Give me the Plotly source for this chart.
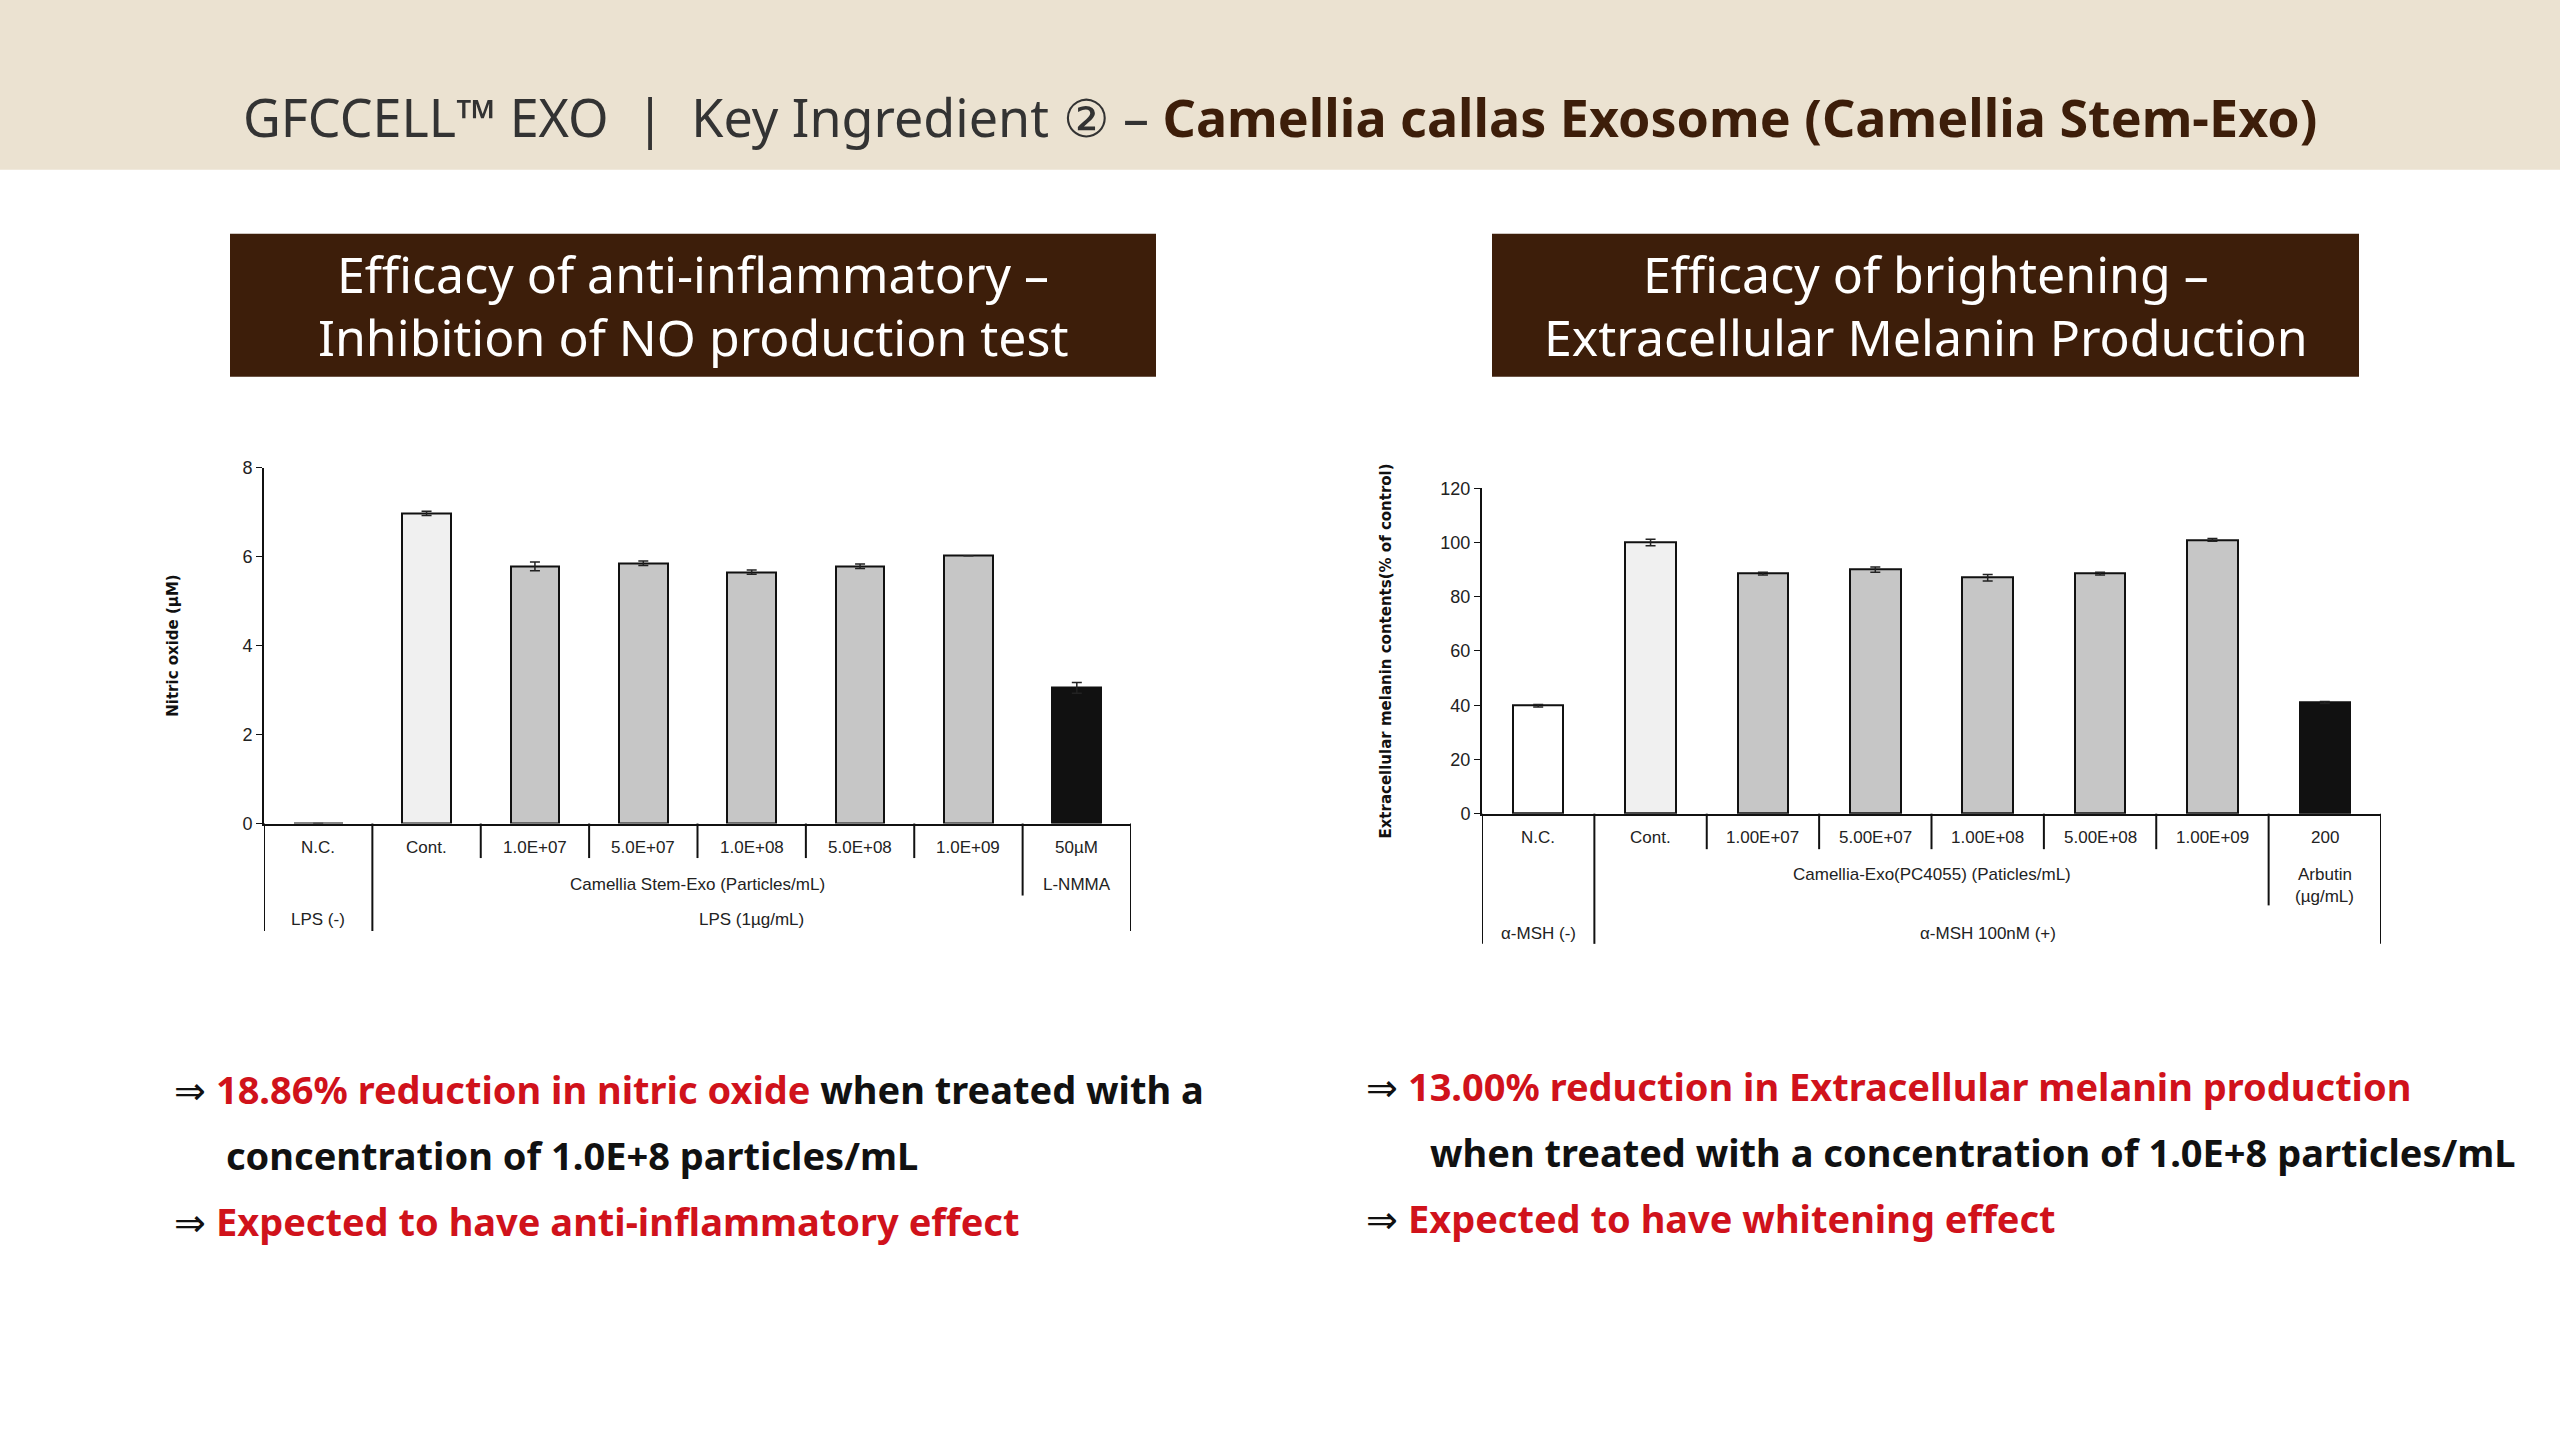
import plotly.graph_objects as go

# left chart: nitric oxide
no_cats = ["N.C.", "Cont.", "1.0E+07", "5.0E+07", "1.0E+08", "5.0E+08", "1.0E+09", "50µM"]
no_vals = [0.0, 6.97, 5.78, 5.85, 5.65, 5.78, 6.02, 3.05]
no_err = [0.0, 0.05, 0.10, 0.05, 0.05, 0.05, 0.0, 0.12]

# right chart: melanin
mel_cats = ["N.C.", "Cont.", "1.00E+07", "5.00E+07", "1.00E+08", "5.00E+08", "1.00E+09", "200"]
mel_vals = [39.8, 100.0, 88.5, 90.0, 87.0, 88.5, 101.0, 41.0]
mel_err = [0.5, 1.2, 0.5, 1.0, 1.2, 0.5, 0.5, 0.4]

bar_colors = ["#ffffff", "#f0f0f0", "#c6c6c6", "#c6c6c6", "#c6c6c6", "#c6c6c6", "#c6c6c6", "#111111"]

W, H = 2560, 1440
def px(v):  # x pixel -> paper
    return v / W
def py(v):  # y pixel from top -> paper
    return 1 - v / H

BROWN = "#3d1e0a"
RED = "#d0121b"
NARROW = "Liberation Sans Narrow, Arial Narrow, sans-serif"
KFONT = "Noto Sans, sans-serif"

fig = go.Figure()
err_style = dict(type="data", thickness=1.5, width=5, color="#222")
fig.add_trace(go.Bar(x=list(range(8)), y=no_vals, error_y=dict(array=no_err, **err_style),
                     marker=dict(color=bar_colors, line=dict(color="#111", width=2)),
                     width=0.45, xaxis="x", yaxis="y", showlegend=False))
fig.add_trace(go.Bar(x=list(range(8)), y=mel_vals, error_y=dict(array=mel_err, **err_style),
                     marker=dict(color=bar_colors, line=dict(color="#111", width=2)),
                     width=0.45, xaxis="x2", yaxis="y2", showlegend=False))

axis_common = dict(showgrid=False, zeroline=False, linecolor="#111", linewidth=2)
fig.update_layout(
    width=W, height=H, paper_bgcolor="white", plot_bgcolor="white",
    margin=dict(l=0, r=0, t=0, b=0), bargap=0,
    xaxis=dict(domain=[px(264), px(1131)], range=[-0.5, 7.5], showticklabels=False,
               ticks="", anchor="y", **axis_common),
    yaxis=dict(domain=[py(825), py(464)], range=[0, 8], dtick=2, ticks="outside",
               ticklen=6, tickcolor="#111", anchor="x",
               tickfont=dict(family=NARROW, size=18, color="#222"),
               title=dict(text="<b>Nitric oxide (µM)</b>", font=dict(family="DejaVu Sans", size=15, color="#111"),
                          standoff=60), **axis_common),
    xaxis2=dict(domain=[px(1482), px(2381)], range=[-0.5, 7.5], showticklabels=False,
                ticks="", anchor="y2", **axis_common),
    yaxis2=dict(domain=[py(815), py(485)], range=[0, 120], dtick=20, ticks="outside",
                ticklen=6, tickcolor="#111", anchor="x2",
                tickfont=dict(family=NARROW, size=18, color="#222"),
                title=dict(text="<b>Extracellular melanin contents(% of control)</b>",
                           font=dict(family="DejaVu Sans", size=15, color="#111"), standoff=45),
                **axis_common),
)

shapes = []
anns = []

# header band
shapes.append(dict(type="rect", xref="paper", yref="paper", x0=0, x1=1, y0=py(162), y1=1.01,
                   fillcolor="#ebe2d1", line=dict(width=0), layer="below"))
anns.append(dict(xref="paper", yref="paper", x=0.5, y=py(108), xanchor="center", yanchor="middle",
                 showarrow=False,
                 text=f"GFCCELL™ EXO  |  Key Ingredient ② – <b><span style='color:{BROWN}'>Camellia callas Exosome (Camellia Stem-Exo)</span></b>",
                 font=dict(family=KFONT, size=52, color="#333")))

# title boxes
for x0, x1, l1, l2 in [(230, 1156, "Efficacy of anti-inflammatory –", "Inhibition of NO production test"),
                       (1492, 2359, "Efficacy of brightening –", "Extracellular Melanin Production")]:
    shapes.append(dict(type="rect", xref="paper", yref="paper", x0=px(x0), x1=px(x1),
                       y0=py(372), y1=py(227), fillcolor=BROWN, line=dict(width=0)))
    for yy, t in [(268, l1), (332, l2)]:
        anns.append(dict(xref="paper", yref="paper", x=px((x0 + x1) / 2), y=py(yy),
                         xanchor="center", yanchor="middle", showarrow=False,
                         text=t, font=dict(family=KFONT, size=50, color="white")))

def vline(xr, xpos, ytop, ybot):
    shapes.append(dict(type="line", xref=xr, yref="paper", x0=xpos, x1=xpos,
                       y0=py(ytop), y1=py(ybot), line=dict(color="#111", width=2)))

def label(xr, xpos, y, txt):
    anns.append(dict(xref=xr, yref="paper", x=xpos, y=py(y), xanchor="center", yanchor="middle",
                     showarrow=False, text=txt,
                     font=dict(family=NARROW, size=17, color="#222")))

# left chart category table
for i, c in enumerate(no_cats):
    label("x", i, 849, c)
vline("x", -0.5, 825, 934)
vline("x", 0.5, 825, 934)
for i in range(1, 6):
    vline("x", i + 0.5, 825, 860)
vline("x", 6.5, 825, 898)
vline("x", 7.5, 825, 934)
label("x", 3.5, 887, "Camellia Stem-Exo (Particles/mL)")
label("x", 7, 887, "L-NMMA")
label("x", 0, 922, "LPS (-)")
label("x", 4, 922, "LPS (1µg/mL)")

# right chart category table
for i, c in enumerate(mel_cats):
    label("x2", i, 839, c)
vline("x2", -0.5, 815, 947)
vline("x2", 0.5, 815, 947)
for i in range(1, 6):
    vline("x2", i + 0.5, 815, 851)
vline("x2", 6.5, 815, 908)
vline("x2", 7.5, 815, 947)
label("x2", 3.5, 877, "Camellia-Exo(PC4055) (Paticles/mL)")
label("x2", 7, 877, "Arbutin")
label("x2", 7, 899, "(µg/mL)")
label("x2", 0, 936, "α-MSH (-)")
label("x2", 4, 936, "α-MSH 100nM (+)")

# conclusion text
def note(x, y, txt):
    anns.append(dict(xref="paper", yref="paper", x=px(x), y=py(y), xanchor="left", yanchor="middle",
                     showarrow=False, text=txt, font=dict(family=KFONT, size=38, color="#111")))

note(172, 1094, f"⇒ <b><span style='color:{RED}'>18.86% reduction in nitric oxide</span> when treated with a</b>")
note(224, 1161, "<b>concentration of 1.0E+8 particles/mL</b>")
note(172, 1228, f"⇒ <b><span style='color:{RED}'>Expected to have anti-inflammatory effect</span></b>")
note(1364, 1091, f"⇒ <b><span style='color:{RED}'>13.00% reduction in Extracellular melanin production</span></b>")
note(1428, 1158, "<b>when treated with a concentration of 1.0E+8 particles/mL</b>")
note(1364, 1225, f"⇒ <b><span style='color:{RED}'>Expected to have whitening effect</span></b>")

fig.update_layout(shapes=shapes, annotations=anns)
fig.write_html("out.html", config={"displayModeBar": False},
               post_script="document.body.style.margin='0';document.body.style.padding='0';"
                           "document.documentElement.style.margin='0';")
